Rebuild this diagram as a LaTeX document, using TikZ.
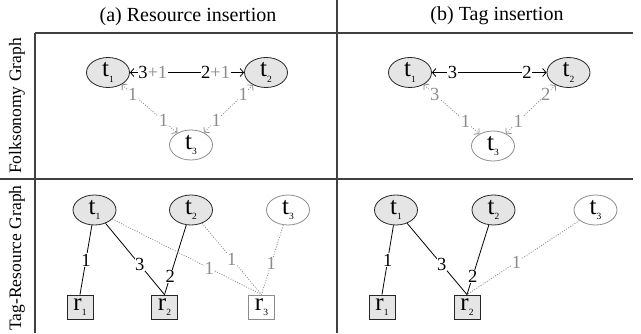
\documentclass[tikz,border=0pt]{standalone}
\usepackage{fontspec}
\setmainfont{Liberation Serif}
\usetikzlibrary{arrows.meta,shapes.geometric}
\newcommand\lowsub[1]{\raisebox{-0.45ex}{\fontsize{9.5}{10}\selectfont #1}}
\begin{document}
\begin{tikzpicture}[x=1pt,y=-1pt,
  >={Straight Barb[length=3.5pt,width=8pt,line width=0.8pt]},
  gridline/.style={draw=black!75,line width=1.1pt},
  head/.style={font=\fontsize{20}{22}\selectfont},
  side/.style={font=\fontsize{17.5}{20}\selectfont,rotate=90},
  tag/.style={ellipse,draw=black!85,line width=0.8pt,fill=black!10,minimum width=43pt,minimum height=30pt,inner sep=0pt,font=\fontsize{25}{26}\selectfont},
  newtag/.style={tag,draw=black!45,fill=white},
  res/.style={rectangle,draw=black!85,line width=0.8pt,fill=black!10,minimum width=26pt,minimum height=24pt,inner sep=0pt,font=\fontsize{25}{26}\selectfont},
  newres/.style={res,draw=black!45,fill=white},
  lbl/.style={font=\fontsize{18.5}{19}\selectfont,fill=white,inner sep=0.5pt},
  glbl/.style={lbl,text=black!45},
  edge/.style={draw=black,line width=0.8pt},
  dedge/.style={draw=black!45,line width=0.8pt,dash pattern=on 1pt off 1.5pt},
]
\useasboundingbox (0,0) rectangle (641,333);
% grid
\draw[gridline] (35,33) -- (633,33);
\draw[gridline] (0,179) -- (633,179);
\draw[gridline] (35,33) -- (35,333);
\draw[gridline] (337,0) -- (337,333);
% headers
\node[head] (ha) at (188,17) {(a) Resource insertion};
\node[head] (hb) at (497,16) {(b) Tag insertion};
\node[side] (sa) at (17,106) {Folksonomy Graph};
\node[side] (sb) at (17,258) {Tag-Resource Graph};
% top left
\node[tag] (a1) at (108,72.5) {t\lowsub{1}};
\node[tag] (a2) at (266,72.5) {t\lowsub{2}};
\node[newtag] (a3) at (191,145) {t\lowsub{3}};
\draw[edge,<->] (a1) -- node[lbl,pos=0.2]{3\textcolor{black!45}{+1}} node[lbl,pos=0.75]{2\textcolor{black!45}{+1}} (a2);
\draw[dedge,<->] (a1) -- node[glbl,pos=0.2]{1} node[glbl,pos=0.75]{1} (a3);
\draw[dedge,<->] (a2) -- node[glbl,pos=0.2]{1} node[glbl,pos=0.75]{1} (a3);
% top right
\node[tag] (b1) at (410,72.5) {t\lowsub{1}};
\node[tag] (b2) at (568.5,72.5) {t\lowsub{2}};
\node[newtag] (b3) at (493,146) {t\lowsub{3}};
\draw[edge,<->] (b1) -- node[lbl,pos=0.18]{3} node[lbl,pos=0.83]{2} (b2);
\draw[dedge,<->] (b1) -- node[glbl,pos=0.2]{3} node[glbl,pos=0.75]{1} (b3);
\draw[dedge,<->] (b2) -- node[glbl,pos=0.2]{2} node[glbl,pos=0.75]{1} (b3);
% bottom left
\node[tag] (c1) at (94.5,210) {t\lowsub{1}};
\node[tag] (c2) at (191,210) {t\lowsub{2}};
\node[newtag] (c3) at (288,210) {t\lowsub{3}};
\node[res] (d1) at (80,307) {r\lowsub{1}};
\node[res] (d2) at (164.5,307) {r\lowsub{2}};
\node[newres] (d3) at (261.5,307) {r\lowsub{3}};
\draw[edge] (c1) -- node[lbl,pos=0.5]{1} (d1.north);
\draw[edge] (c1) -- node[lbl,pos=0.58]{3} (d2.north);
\draw[edge] (c2) -- node[lbl,pos=0.74]{2} (d2.north);
\draw[dedge] (c1) -- node[glbl,pos=0.65]{1} (d3.north);
\draw[dedge] (c2) -- node[glbl,pos=0.5]{1} (d3.north);
\draw[dedge] (c3) -- node[glbl,pos=0.55]{1} (d3.north);
% bottom right
\node[tag] (e1) at (396,210) {t\lowsub{1}};
\node[tag] (e2) at (493.5,210) {t\lowsub{2}};
\node[newtag] (e3) at (595.5,210) {t\lowsub{3}};
\node[res] (f1) at (382,307) {r\lowsub{1}};
\node[res] (f2) at (467,307) {r\lowsub{2}};
\draw[edge] (e1) -- node[lbl,pos=0.5]{1} (f1.north);
\draw[edge] (e1) -- node[lbl,pos=0.58]{3} (f2.north);
\draw[edge] (e2) -- node[lbl,pos=0.74]{2} (f2.north);
\draw[dedge] (e3) -- node[glbl,pos=0.56]{1} (f2.north);
\end{tikzpicture}
\end{document}
